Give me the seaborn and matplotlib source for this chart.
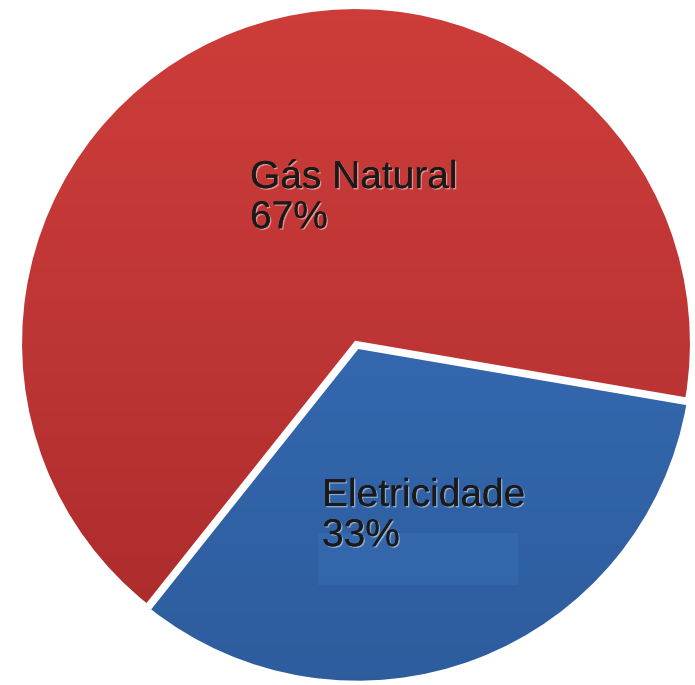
import numpy as np
import matplotlib
matplotlib.use("Agg")
import matplotlib.pyplot as plt
import matplotlib.patheffects as pe
from matplotlib.colors import LinearSegmentedColormap
import seaborn as sns

# ---- data ----
categories = ["Gás Natural", "Eletricidade"]
shares = [67, 33]
pct_labels = ["67%", "33%"]

sns.set_theme(style="white")
plt.rcParams['font.family'] = ['Liberation Sans', 'DejaVu Sans']

fig = plt.figure(figsize=(6.95, 6.85), dpi=100)
ax = fig.add_axes([0, 0, 1, 1])

R = 336.0  # px per data unit
cx, cy = 356.0, 343.0

def set_lims():
    ax.set_xlim((0 - cx) / R, (695 - cx) / R)
    ax.set_ylim((cy - 685) / R, (cy - 0) / R)
    ax.set_aspect('auto')
    ax.axis('off')

wedges, _ = ax.pie(shares, startangle=-9.7, counterclock=True,
                   colors=["#C23736", "#3B77C3"],
                   explode=[0, 0.012], radius=1.0,
                   wedgeprops=dict(edgecolor="white", linewidth=3.0),
                   frame=True)
set_lims()

# vertical gradient shading, clipped to each wedge
grads = [
    LinearSegmentedColormap.from_list("r", ["#A82929", "#BE3535", "#CE3E3A"]),
    LinearSegmentedColormap.from_list("b", ["#2D5C9C", "#3467AE", "#3E7DCA"]),
]
g = np.linspace(0, 1, 256).reshape(-1, 1)
for w, cm in zip(wedges, grads):
    im = ax.imshow(g, cmap=cm, extent=[-1.1, 1.1, -1.1, 1.1], origin='lower',
                   aspect='auto', zorder=w.get_zorder() - 0.1)
    im.set_clip_path(w)
    w.set_facecolor('none')
set_lims()

def px(x, y):
    return ((x - cx) / R, (cy - y) / R)

# faint label box
x0, y0 = px(318, 585)
ax.add_patch(plt.Rectangle((x0, y0), 200 / R, 52 / R, facecolor="#4682CC",
                           edgecolor='none', alpha=0.2, zorder=3))

shadow = [pe.withSimplePatchShadow(offset=(1, -1), shadow_rgbFace='white', alpha=0.45), pe.Normal()]
tx, ty = px(250, 160)
ax.text(tx, ty, f"{categories[0]}\n{pct_labels[0]}", fontsize=28, color="#1a1a1a",
        ha='left', va='top', linespacing=1.15, zorder=5, path_effects=shadow)
tx, ty = px(322, 478)
ax.text(tx, ty, f"{categories[1]}\n{pct_labels[1]}", fontsize=28, color="#1a1a1a",
        ha='left', va='top', linespacing=1.15, zorder=5, path_effects=shadow)

fig.savefig("out.png", dpi=100, facecolor="white")
